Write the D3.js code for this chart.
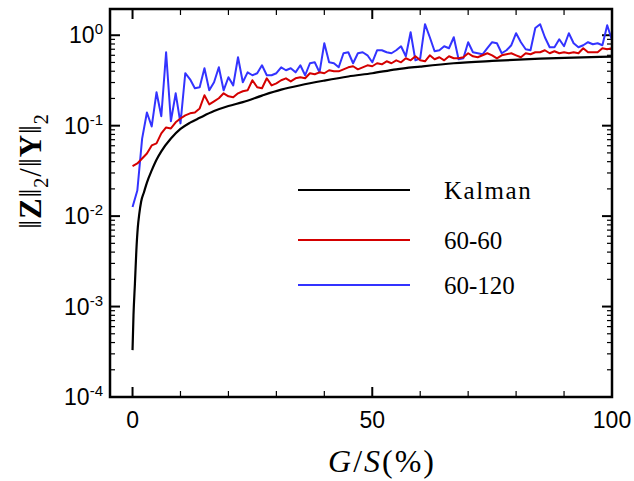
<!DOCTYPE html>
<html>
<head>
<meta charset="utf-8">
<script src="https://cdn.jsdelivr.net/npm/d3@7"></script>
<style>
  body { margin: 0; background: #fff; }
</style>
</head>
<body>
<svg id="chart" width="634" height="481"></svg>
<script>
// G/S (%) sampling grid for the two noisy series
const gridG = d3.range(0, 101);

// Kalman curve (smooth)
const kalmanG = [0, 0.2, 0.5, 0.8, 1.1, 1.4, 1.8, 2.4, 3, 4, 5, 6, 8, 10, 12, 14, 17, 20, 23, 27, 31, 35, 40, 45, 50, 55, 60, 67, 75, 85, 92, 100];
const kalmanV = [3.3e-4, 8e-4, 1.8e-3, 4.2e-3, 7.5e-3, 0.0105, 0.0145, 0.0185, 0.0235, 0.032, 0.042, 0.052, 0.072, 0.092, 0.108, 0.122, 0.145, 0.165, 0.182, 0.215, 0.25, 0.28, 0.315, 0.35, 0.38, 0.42, 0.45, 0.49, 0.52, 0.55, 0.565, 0.58];

// 60-60 (red)
const red6060 = [
  0.0357, 0.0382, 0.0434, 0.0493, 0.0605, 0.0637, 0.0822, 0.0957, 0.0933, 0.109,
  0.120, 0.130, 0.137, 0.140, 0.155, 0.217, 0.172, 0.186, 0.201, 0.228,
  0.211, 0.206, 0.228, 0.240, 0.246, 0.318, 0.266, 0.259, 0.334, 0.279,
  0.294, 0.318, 0.334, 0.309, 0.334, 0.343, 0.334, 0.380, 0.370, 0.389,
  0.380, 0.410, 0.399, 0.399, 0.420, 0.442, 0.454, 0.420, 0.442, 0.465,
  0.454, 0.490, 0.477, 0.515, 0.490, 0.528, 0.502, 0.556, 0.528, 0.585,
  0.528, 0.515, 0.600, 0.542, 0.571, 0.528, 0.585, 0.556, 0.556, 0.571,
  0.632, 0.585, 0.571, 0.600, 0.632, 0.600, 0.556, 0.600, 0.616, 0.632,
  0.600, 0.571, 0.632, 0.616, 0.648, 0.648, 0.682, 0.632, 0.665, 0.632,
  0.648, 0.632, 0.648, 0.632, 0.718, 0.648, 0.648, 0.648, 0.718, 0.700,
  0.718
];

// 60-120 (blue)
const blue60120 = [
  0.0126, 0.0192, 0.072, 0.140, 0.098, 0.234, 0.127, 0.648, 0.112, 0.228,
  0.106, 0.380, 0.326, 0.259, 0.266, 0.431, 0.246, 0.302, 0.442, 0.246,
  0.343, 0.279, 0.571, 0.302, 0.389, 0.361, 0.380, 0.465, 0.361, 0.361,
  0.380, 0.442, 0.410, 0.431, 0.389, 0.465, 0.361, 0.490, 0.502, 0.389,
  0.815, 0.502, 0.490, 0.442, 0.632, 0.648, 0.490, 0.632, 0.648, 0.600,
  0.502, 0.682, 0.682, 0.648, 0.632, 0.682, 0.755, 0.585, 1.080, 0.528,
  0.556, 1.324, 0.950, 0.665, 0.682, 0.755, 0.718, 0.950, 0.542, 0.556,
  0.837, 0.648, 0.632, 0.616, 0.718, 0.837, 0.815, 0.632, 0.682, 0.775,
  1.052, 0.837, 0.700, 0.682, 1.20, 1.324, 0.950, 0.736, 0.736, 0.903,
  0.755, 1.052, 0.815, 0.736, 0.775, 0.837, 0.795, 0.815, 0.775, 1.290,
  0.880
];

const xMajor = [0, 50, 100];
const xMinor = [10, 20, 30, 40, 60, 70, 80, 90];
const yMajor = [1e-4, 1e-3, 1e-2, 1e-1, 1];
const yExp = ["-4", "-3", "-2", "-1", "0"];
const seriesNames = ["Kalman", "60-60", "60-120"];
const seriesColors = ["#000000", "#d40000", "#3333ff"];

const width = 634, height = 481;
const margin = { top: 9, right: 22, bottom: 84, left: 110 };
const x0 = margin.left, x1 = width - margin.right;
const y0 = height - margin.bottom, y1 = margin.top;

const x = d3.scaleLinear().domain([-4.7, 100]).range([x0, x1]);
const y = d3.scaleLog().domain([1e-4, 1.95]).range([y0, y1]);

const yMinor = [];
yMajor.slice(0, -1).forEach((d) => {
  for (let k = 2; k <= 9; k++) yMinor.push(d * k);
});
yMinor.push(2);

const svg = d3.select("#chart");

svg.append("defs").append("clipPath").attr("id", "clip")
  .append("rect").attr("x", x0).attr("y", y1).attr("width", x1 - x0).attr("height", y0 - y1);

// ticks, all pointing inward
const ticks = svg.append("g").attr("stroke", "#000");
function xTicks(vals, len, sw) {
  ticks.selectAll(null).data(vals).join("line")
    .attr("x1", (d) => x(d)).attr("x2", (d) => x(d))
    .attr("y1", y0).attr("y2", y0 - len).attr("stroke-width", sw);
  ticks.selectAll(null).data(vals).join("line")
    .attr("x1", (d) => x(d)).attr("x2", (d) => x(d))
    .attr("y1", y1).attr("y2", y1 + len).attr("stroke-width", sw);
}
function yTicks(vals, len, sw) {
  ticks.selectAll(null).data(vals).join("line")
    .attr("y1", (d) => y(d)).attr("y2", (d) => y(d))
    .attr("x1", x0).attr("x2", x0 + len).attr("stroke-width", sw);
  ticks.selectAll(null).data(vals).join("line")
    .attr("y1", (d) => y(d)).attr("y2", (d) => y(d))
    .attr("x1", x1).attr("x2", x1 - len).attr("stroke-width", sw);
}
xTicks(xMajor, 10, 2);
xTicks(xMinor, 6, 1.2);
yTicks(yMajor, 10, 2);
yTicks(yMinor.filter((d) => d < 1.95), 5, 1.2);

// lines
const line = d3.line().x((d) => x(d[0])).y((d) => y(d[1]));
const plot = svg.append("g").attr("clip-path", "url(#clip)").attr("fill", "none")
  .attr("stroke-linejoin", "round");

plot.append("path")
  .attr("d", line.curve(d3.curveLinear)(gridG.map((g, i) => [g, blue60120[i]])))
  .attr("stroke", seriesColors[2]).attr("stroke-width", 2);
plot.append("path")
  .attr("d", line.curve(d3.curveLinear)(gridG.map((g, i) => [g, red6060[i]])))
  .attr("stroke", seriesColors[1]).attr("stroke-width", 2);
plot.append("path")
  .attr("d", line.curve(d3.curveMonotoneX)(kalmanG.map((g, i) => [g, kalmanV[i]])))
  .attr("stroke", seriesColors[0]).attr("stroke-width", 2.2);

// frame
svg.append("rect")
  .attr("x", x0).attr("y", y1).attr("width", x1 - x0).attr("height", y0 - y1)
  .attr("fill", "none").attr("stroke", "#000").attr("stroke-width", 2.5);

// tick labels
const sans = "'Liberation Sans', Arial, sans-serif";
svg.append("g").selectAll("text").data(xMajor).join("text")
  .attr("x", (d) => x(d)).attr("y", 428)
  .attr("text-anchor", "middle").attr("font-family", sans).attr("font-size", 23)
  .text((d) => d);

const yl = svg.append("g").selectAll("text").data(yMajor).join("text")
  .attr("x", 103).attr("y", (d) => y(d) + 8)
  .attr("text-anchor", "end").attr("font-family", sans).attr("font-size", 23);
yl.append("tspan").text("10");
yl.append("tspan").attr("dy", -9).attr("font-size", 15).text((d, i) => yExp[i]);

// axis titles
const serif = "'Liberation Serif', 'Times New Roman', serif";
const xt = svg.append("text").attr("x", 382).attr("y", 472)
  .attr("text-anchor", "middle").attr("font-family", serif).attr("font-size", 32)
  .attr("letter-spacing", 2);
xt.append("tspan").attr("font-style", "italic").text("G");
xt.append("tspan").text("/");
xt.append("tspan").attr("font-style", "italic").text("S");
xt.append("tspan").text("(%)");

const yt = svg.append("text")
  .attr("transform", "translate(41,171) rotate(-90)")
  .attr("text-anchor", "middle").attr("font-family", serif).attr("font-size", 31)
  .attr("letter-spacing", 1);
yt.append("tspan").text("\u2016");
yt.append("tspan").attr("font-weight", "bold").text("Z");
yt.append("tspan").text("\u2016");
yt.append("tspan").attr("font-size", 20).attr("dy", 7).text("2");
yt.append("tspan").attr("dy", -7).text("/\u2016");
yt.append("tspan").attr("font-weight", "bold").text("Y");
yt.append("tspan").text("\u2016");
yt.append("tspan").attr("font-size", 20).attr("dy", 7).text("2");

// legend
const legendY = [190, 240, 285];
const leg = svg.append("g").selectAll("g").data(seriesNames).join("g")
  .attr("transform", (d, i) => `translate(0,${legendY[i]})`);
leg.append("line").attr("x1", 298).attr("x2", 410)
  .attr("stroke", (d, i) => seriesColors[i]).attr("stroke-width", 2);
leg.append("text").attr("x", 444).attr("y", 9)
  .attr("font-family", serif).attr("font-size", 25)
  .attr("letter-spacing", (d, i) => (i === 0 ? 1.5 : 0))
  .text((d) => d);
</script>
</body>
</html>
